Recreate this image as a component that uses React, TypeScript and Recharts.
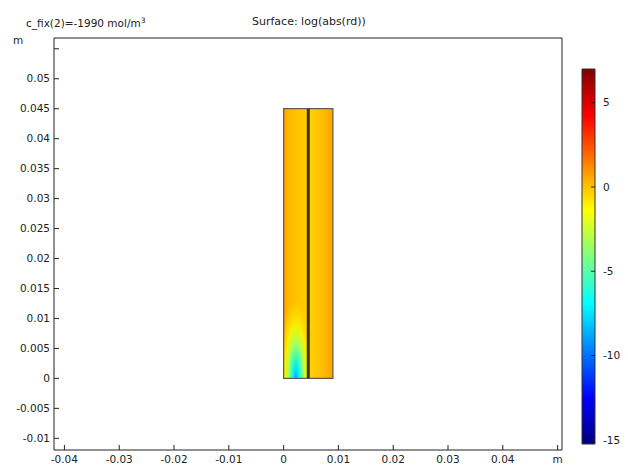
import React from 'react';
import { ComposedChart, Line, XAxis, YAxis, ReferenceArea } from 'recharts';

// axis values (m)
const xTicks = [-0.04, -0.03, -0.02, -0.01, 0, 0.01, 0.02, 0.03, 0.04, 0.05];
const yTicks = [-0.01, -0.005, 0, 0.005, 0.01, 0.015, 0.02, 0.025, 0.03, 0.035, 0.04, 0.045, 0.05, 0.055];
const xDomain = [-0.0419, 0.0508];
const yDomain = [-0.01195, 0.0568];

// geometry: two domains side by side
const leftX = [0, 0.0045];
const rightX = [0.0045, 0.009];
const domainY = [0, 0.045];
const divider = [
  { x: 0.0045, y: 0 },
  { x: 0.0045, y: 0.045 },
];

// colour legend
const colorRange = [-15.25, 7];
const colorTicks = [-15, -10, -5, 0, 5];
const colorSpan = [{ x: 0 }, { x: 1 }];
const jetStops = [
  { offset: 0, color: '#800000' },
  { offset: 0.125, color: '#ff0000' },
  { offset: 0.375, color: '#ffff00' },
  { offset: 0.625, color: '#00ffff' },
  { offset: 0.875, color: '#0000ff' },
  { offset: 1, color: '#000080' },
];

const font = '"DejaVu Sans", Verdana, sans-serif';
const ink = '#222';
const fs = 10.5;

function YTick(props: any) {
  const { x, y, payload } = props;
  if (payload.value === 0.055) {
    return (
      <text x={x - 37} y={y - 5} fontSize={fs} fill={ink} fontFamily={font}>
        m
      </text>
    );
  }
  return (
    <text x={x} y={y} dy="0.355em" textAnchor="end" fontSize={fs} fill={ink} fontFamily={font}>
      {String(payload.value)}
    </text>
  );
}

export default function App() {
  return (
    <div style={{ position: 'absolute', left: 0, top: 0, width: 628, height: 467, background: '#fff' }}>
      <svg width={628} height={40} style={{ position: 'absolute', left: 0, top: 0 }}>
        <text x={26} y={27} fontSize={fs} fill={ink} fontFamily={font}>
          c_fix(2)=-1990 mol/m
          <tspan dy={-4} fontSize={7.5}>3</tspan>
        </text>
        <text x={252} y={25} fontSize={11} fill={ink} fontFamily={font}>
          Surface: log(abs(rd))
        </text>
      </svg>

      <div style={{ position: 'absolute', left: 0, top: 0 }}>
        <ComposedChart width={628} height={467} data={divider} margin={{ top: 37, right: 65, bottom: 1, left: 10 }}>
          <defs>
            <linearGradient id="leftBase" x1="0" y1="0" x2="1" y2="0">
              <stop offset="0" stopColor="#ff9a00" />
              <stop offset="0.15" stopColor="#ffb600" />
              <stop offset="0.6" stopColor="#ffc600" />
              <stop offset="1" stopColor="#ffcf00" />
            </linearGradient>
            <linearGradient id="rightBase" x1="0" y1="0" x2="1" y2="0">
              <stop offset="0" stopColor="#ffd400" />
              <stop offset="0.5" stopColor="#ffc200" />
              <stop offset="1" stopColor="#ffa200" />
            </linearGradient>
            <radialGradient id="plume" cx="0.5" cy="1" r="1" gradientTransform="translate(0.5 1) scale(0.7 0.3) translate(-0.5 -1)">
              <stop offset="0" stopColor="#1f9fff" />
              <stop offset="0.12" stopColor="#00e5ff" />
              <stop offset="0.28" stopColor="#40ffb0" />
              <stop offset="0.45" stopColor="#b0ff50" />
              <stop offset="0.65" stopColor="#f8f000" />
              <stop offset="0.85" stopColor="#ffd800" stopOpacity={0.6} />
              <stop offset="1" stopColor="#ffd000" stopOpacity={0} />
            </radialGradient>
          </defs>
          <XAxis
            xAxisId="b"
            dataKey="x"
            type="number"
            domain={xDomain}
            ticks={xTicks}
            allowDataOverflow
            height={16}
            tickSize={-5}
            tickMargin={11}
            stroke={ink}
            tick={{ fill: ink, fontSize: fs, fontFamily: font }}
            tickFormatter={(v: number) => (v === 0.05 ? 'm' : String(v))}
            interval={0}
          />
          <XAxis
            xAxisId="t"
            orientation="top"
            type="number"
            domain={xDomain}
            ticks={xTicks}
            allowDataOverflow
            height={1}
            tickSize={-5}
            tick={false}
            stroke={ink}
            interval={0}
          />
          <YAxis
            yAxisId="l"
            dataKey="y"
            type="number"
            domain={yDomain}
            ticks={yTicks}
            allowDataOverflow
            width={44}
            tickSize={-5}
            tickMargin={9}
            stroke={ink}
            tick={<YTick />}
            interval={0}
          />
          <YAxis
            yAxisId="r"
            orientation="right"
            type="number"
            domain={yDomain}
            ticks={yTicks}
            allowDataOverflow
            width={1}
            tickSize={-5}
            tick={false}
            stroke={ink}
            interval={0}
          />
          <ReferenceArea xAxisId="b" yAxisId="l" x1={leftX[0]} x2={leftX[1]} y1={domainY[0]} y2={domainY[1]} fill="url(#leftBase)" fillOpacity={1} stroke="none" />
          <ReferenceArea xAxisId="b" yAxisId="l" x1={leftX[0]} x2={leftX[1]} y1={domainY[0]} y2={domainY[1]} fill="url(#plume)" fillOpacity={1} stroke="#5f5d50" strokeWidth={1.2} />
          <ReferenceArea xAxisId="b" yAxisId="l" x1={rightX[0]} x2={rightX[1]} y1={domainY[0]} y2={domainY[1]} fill="url(#rightBase)" fillOpacity={1} stroke="#5f5d50" strokeWidth={1.2} />
          <Line
            xAxisId="b"
            yAxisId="l"
            dataKey="y"
            stroke="#3c3212"
            strokeWidth={3}
            dot={false}
            isAnimationActive={false}
          />
        </ComposedChart>
      </div>

      <div style={{ position: 'absolute', left: 0, top: 0 }}>
        <ComposedChart width={628} height={467} data={colorSpan} margin={{ top: 69, right: 3, bottom: 23, left: 582 }}>
          <defs>
            <linearGradient id="jet" x1="0" y1="0" x2="0" y2="1">
              {jetStops.map((s) => (
                <stop key={s.offset} offset={s.offset} stopColor={s.color} />
              ))}
            </linearGradient>
          </defs>
          <XAxis xAxisId="c" dataKey="x" type="number" domain={[0, 1]} allowDataOverflow hide height={0} />
          <YAxis
            yAxisId="c"
            orientation="right"
            type="number"
            domain={colorRange}
            ticks={colorTicks}
            allowDataOverflow
            width={30}
            axisLine={false}
            tickSize={-4}
            tickMargin={12}
            stroke={ink}
            tick={{ fill: ink, fontSize: fs, fontFamily: font, textAnchor: 'start' }}
            interval={0}
          />
          <ReferenceArea xAxisId="c" yAxisId="c" x1={0} x2={1} y1={colorRange[0]} y2={colorRange[1]} fill="url(#jet)" fillOpacity={1} stroke="#333" strokeWidth={1} />
        </ComposedChart>
      </div>
    </div>
  );
}
